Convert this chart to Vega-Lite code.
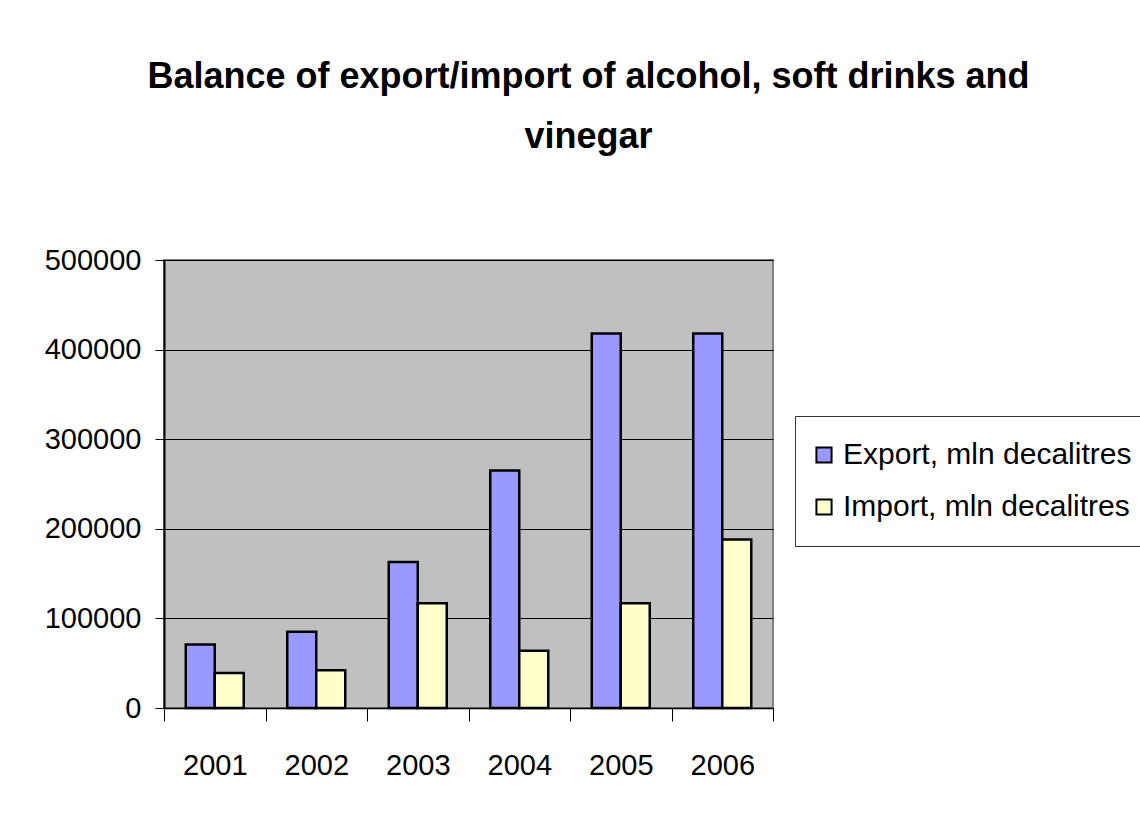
{
  "$schema": "https://vega.github.io/schema/vega-lite/v6.json",
  "width": 609,
  "height": 448,
  "autosize": {"type": "none"},
  "padding": {"left": 164, "top": 260, "right": 367, "bottom": 124},
  "background": "white",
  "title": {
    "text": ["Balance of export/import of alcohol, soft drinks and", "vinegar"],
    "font": "Liberation Sans",
    "fontSize": 36,
    "fontWeight": "bold",
    "color": "black",
    "lineHeight": 60,
    "anchor": "middle",
    "dx": 120,
    "dy": -90,
    "offset": 0
  },
  "data": {
    "values": [
      {"year": "2001", "series": "Export, mln decalitres", "value": 71000},
      {"year": "2001", "series": "Import, mln decalitres", "value": 39000},
      {"year": "2002", "series": "Export, mln decalitres", "value": 85000},
      {"year": "2002", "series": "Import, mln decalitres", "value": 42000},
      {"year": "2003", "series": "Export, mln decalitres", "value": 163000},
      {"year": "2003", "series": "Import, mln decalitres", "value": 117000},
      {"year": "2004", "series": "Export, mln decalitres", "value": 265000},
      {"year": "2004", "series": "Import, mln decalitres", "value": 64000},
      {"year": "2005", "series": "Export, mln decalitres", "value": 418000},
      {"year": "2005", "series": "Import, mln decalitres", "value": 117000},
      {"year": "2006", "series": "Export, mln decalitres", "value": 418000},
      {"year": "2006", "series": "Import, mln decalitres", "value": 188000}
    ]
  },
  "mark": {"type": "bar", "stroke": "black", "strokeWidth": 2.5},
  "encoding": {
    "x": {
      "field": "year",
      "type": "nominal",
      "scale": {"paddingInner": 0, "paddingOuter": 0},
      "axis": {
        "title": null,
        "labelAngle": 0,
        "tickBand": "extent",
        "tickSize": 13,
        "tickColor": "black",
        "domainColor": "black",
        "domainWidth": 1.5,
        "labelFont": "Liberation Sans",
        "labelFontSize": 29,
        "labelColor": "black",
        "labelPadding": 30,
        "grid": false
      }
    },
    "xOffset": {
      "field": "series",
      "type": "nominal",
      "scale": {"paddingInner": 0, "paddingOuter": 0.75}
    },
    "y": {
      "field": "value",
      "type": "quantitative",
      "scale": {"domain": [0, 500000], "nice": false},
      "axis": {
        "title": null,
        "values": [0, 100000, 200000, 300000, 400000, 500000],
        "format": "d",
        "tickSize": 9,
        "tickColor": "black",
        "domainColor": "black",
        "domainWidth": 2,
        "grid": true,
        "gridColor": "black",
        "gridWidth": 1,
        "labelFont": "Liberation Sans",
        "labelFontSize": 29,
        "labelColor": "black",
        "labelPadding": 14
      }
    },
    "fill": {
      "field": "series",
      "type": "nominal",
      "scale": {
        "domain": ["Export, mln decalitres", "Import, mln decalitres"],
        "range": ["#9999FF", "#FFFFCC"]
      },
      "legend": {
        "title": null,
        "orient": "none",
        "legendX": 631,
        "legendY": 156,
        "symbolType": "square",
        "symbolSize": 230,
        "symbolStrokeColor": "black",
        "symbolStrokeWidth": 2,
        "labelFont": "Liberation Sans",
        "labelFontSize": 30,
        "labelColor": "black",
        "labelOffset": 4,
        "labelLimit": 500,
        "clipHeight": 50,
        "rowPadding": 2,
        "padding": 14,
        "strokeColor": "#333333",
        "fillColor": "white"
      }
    }
  },
  "config": {
    "view": {"fill": "#C0C0C0", "stroke": "#808080", "strokeWidth": 2}
  }
}
